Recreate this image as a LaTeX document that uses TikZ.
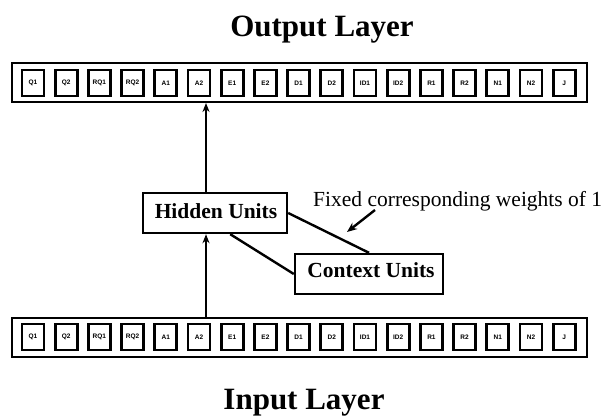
\documentclass[tikz,border=0pt]{standalone}
\usepackage{fontspec}
\setmainfont{Liberation Serif}
\newfontfamily\cellfont{Liberation Sans}
\usetikzlibrary{arrows.meta,calc}
\tikzset{
  cell/.style={draw, line width=2.7pt, minimum width=22pt, minimum height=26pt, inner sep=0pt,
    font=\cellfont\bfseries\fontsize{6.5}{7}\selectfont},
  layer/.style={draw, line width=2pt, minimum width=575pt, minimum height=39pt, inner sep=0pt},
  unitbox/.style={draw, line width=2.4pt, inner sep=0pt, font=\bfseries\fontsize{21.5}{24}\selectfont},
  title/.style={font=\bfseries\fontsize{31}{34}\selectfont, inner sep=0pt},
  conn/.style={line width=2.4pt},
  arr/.style={line width=2.2pt, -{Stealth[length=9pt,width=7pt]}},
}
\begin{document}
\begin{tikzpicture}[x=1pt,y=-1pt]
\useasboundingbox (0,0) rectangle (609,417);
% titles
\node[title, anchor=base] (outtitle) at (322,37) {Output Layer};
\node[title, anchor=base] (intitle) at (304,409) {Input Layer};
% layers
\node[layer] (outlayer) at (299.5,82.5) {};
\node[layer] (inlayer) at (299.5,337.5) {};
\foreach \lab [count=\i from 0] in {Q1,Q2,RQ1,RQ2,A1,A2,E1,E2,D1,D2,ID1,ID2,R1,R2,N1,N2,J}{
  \node[cell] (o\i) at ({33+33.2*\i},83) {\lab};
  \node[cell] (i\i) at ({33+33.2*\i},337) {\lab};
}
% hidden and context units
\node[unitbox, minimum width=144pt, minimum height=40pt] (hid) at (215,213) {};
\node[anchor=base, font=\bfseries\fontsize{21.5}{24}\selectfont, inner sep=0pt] (hidtxt) at (216,218) {Hidden Units};
\node[unitbox, minimum width=148pt, minimum height=40pt] (con) at (369,274) {};
\node[anchor=base, font=\bfseries\fontsize{21.5}{24}\selectfont, inner sep=0pt] (contxt) at (371,277) {Context Units};
% label
\node[anchor=base west, font=\fontsize{21.5}{24}\selectfont, inner sep=0pt] (fixed) at (313,206) {Fixed corresponding weights of 1};
% connectors
\coordinate (vx) at (206,0);
\draw[arr] (inlayer.north -| vx) -- (hid.south -| vx);
\draw[arr] (hid.north -| vx) -- (outlayer.south -| vx);
\draw[conn] ($(hid.south west)!0.604!(hid.south east)$) -- (con.west);
\draw[conn] (hid.east) -- (con.north);
\coordinate (fa) at (375,210);
\coordinate (fb) at (347,232);
\draw[line width=2.4pt, -{Stealth[length=10pt,width=8pt]}] (fa) -- (fb);
\end{tikzpicture}
\end{document}
